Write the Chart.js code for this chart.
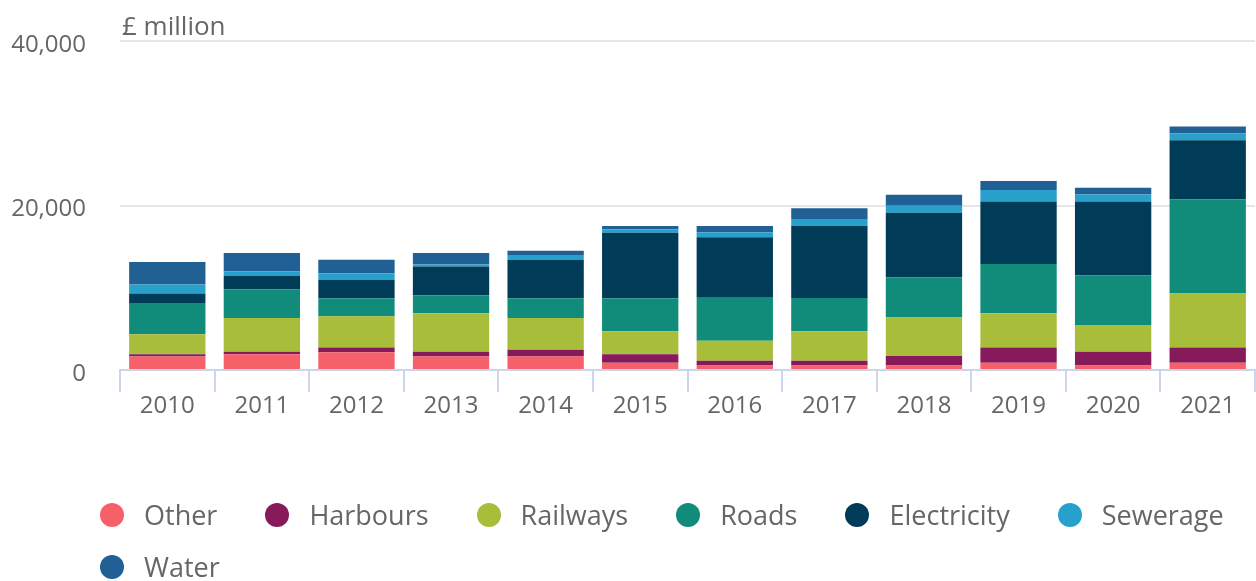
<!DOCTYPE html>
<html>
<head>
<meta charset="utf-8">
<script src="https://cdn.jsdelivr.net/npm/chart.js@4/dist/chart.umd.min.js"></script>
<style>
  html, body { margin: 0; padding: 0; background: #fff; }
  #wrap { position: relative; width: 1256px; height: 581px; }
  #c { position: absolute; left: 0; top: 0; }
  #legend { position: absolute; left: 100px; top: 489px; width: 1150px; display: flex; flex-wrap: wrap; column-gap: 48px;
    font-family: 'Open Sans', sans-serif; font-size: 27px; color: #666; line-height: 52px; }
  .item { display: flex; align-items: center; white-space: nowrap; }
  .dot { width: 24px; height: 24px; border-radius: 50%; margin-right: 20px; display: inline-block; }
</style>
</head>
<body>
<div id="wrap">
  <canvas id="c" width="1256" height="581"></canvas>
  <div id="legend"></div>
</div>
<script>
const years = ['2010','2011','2012','2013','2014','2015','2016','2017','2018','2019','2020','2021'];
const other       = [1650, 1930, 2170, 1650, 1650,  880,  560,  560,  560,  880,  550,   880];
const harbours    = [ 250,  290,  570,  570,  820, 1050,  570,  570, 1130, 1870, 1670,  1870];
const railways    = [2440, 4100, 3780, 4670, 3860, 2770, 2440, 3570, 4680, 4150, 3250,  6550];
const roads       = [3820, 3500, 2200, 2200, 2400, 4030, 5200, 4060, 4920, 5980, 6030, 11470];
const electricity = [1150, 1620, 2230, 3500, 4640, 7970, 7370, 8750, 7840, 7600, 8980,  7150];
const sewerage    = [1100,  570,  820,  280,  610,  410,  610,  850,  850, 1390,  850,   820];
const water       = [2720, 2230, 1620, 1340,  520,  400,  770, 1300, 1340, 1100,  820,   850];
const seriesNames = ['Other','Harbours','Railways','Roads','Electricity','Sewerage','Water'];
const yTicks = [0, 20000, 40000];
const unitLabel = '£ million';

const colors = ['#f66068','#871a5b','#a8bd3a','#118c7b','#003c57','#27a0cc','#206095'];
const seriesData = [other, harbours, railways, roads, electricity, sewerage, water];

Chart.defaults.font.family = "'Open Sans', sans-serif";

const unitTitle = {
  id: 'unitTitle',
  afterDraw(chart) {
    const ctx = chart.ctx;
    ctx.save();
    ctx.font = "26px 'Open Sans', sans-serif";
    ctx.fillStyle = '#666';
    ctx.textAlign = 'left';
    ctx.textBaseline = 'middle';
    ctx.fillText(unitLabel, chart.chartArea.left + 2, chart.chartArea.top - 13);
    ctx.restore();
  }
};

const chart = new Chart(document.getElementById('c'), {
  type: 'bar',
  data: {
    labels: years,
    datasets: seriesNames.map((n, i) => ({
      label: n,
      data: seriesData[i],
      backgroundColor: colors[i],
      borderWidth: 0,
      barPercentage: 1,
      categoryPercentage: 0.807
    }))
  },
  options: {
    responsive: false,
    animation: false,
    layout: { padding: { left: 10, right: 1, top: 41, bottom: 160 } },
    plugins: { legend: { display: false }, tooltip: { enabled: false } },
    scales: {
      x: {
        stacked: true,
        grid: { offset: true, drawOnChartArea: false, drawTicks: true, tickLength: 22, color: '#ccd6eb', lineWidth: 2 },
        border: { color: '#ccd6eb', width: 2 },
        ticks: { color: '#666', font: { size: 24 }, padding: 0, maxRotation: 0 },
        afterFit(s) { s.height = 51; }
      },
      y: {
        stacked: true,
        min: 0, max: 40000,
        afterBuildTicks(s) { s.ticks = yTicks.map(v => ({ value: v })); },
        grid: { color: '#e6e6e6', lineWidth: 2, drawTicks: false },
        border: { display: false },
        ticks: { color: '#666', font: { size: 24 }, padding: 34, labelOffset: 4,
          callback: v => v.toLocaleString('en-GB') },
        afterFit(s) { s.width = 110; s.paddingTop = 0; s.paddingBottom = 0; }
      }
    }
  },
  plugins: [unitTitle]
});

const leg = document.getElementById('legend');
chart.data.datasets.forEach(ds => {
  const it = document.createElement('div');
  it.className = 'item';
  const d = document.createElement('span');
  d.className = 'dot';
  d.style.background = ds.backgroundColor;
  const t = document.createElement('span');
  t.textContent = ds.label;
  it.appendChild(d); it.appendChild(t);
  leg.appendChild(it);
});
</script>
</body>
</html>
